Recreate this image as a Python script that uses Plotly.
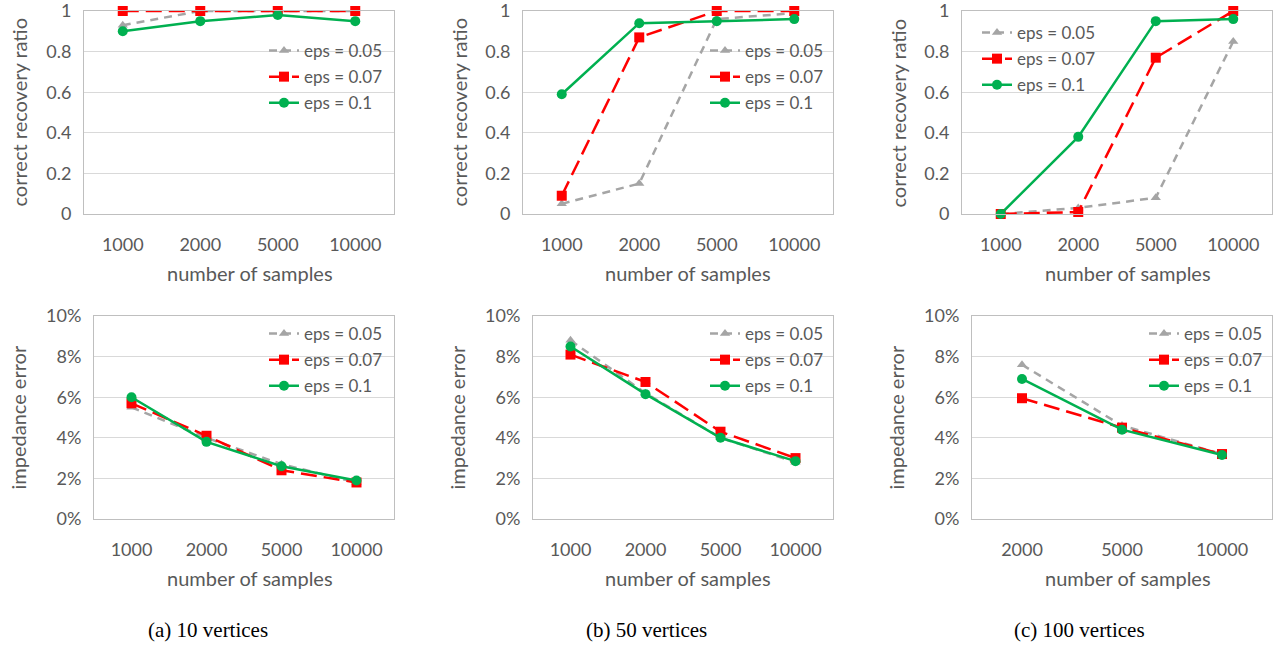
import plotly.graph_objects as go

# ---------------- data ----------------
samples4 = ["1000", "2000", "5000", "10000"]
samples3 = ["2000", "5000", "10000"]
eps_labels = ["eps = 0.05", "eps = 0.07", "eps = 0.1"]

# correct recovery ratio
rec10_e005 = [0.93, 1.00, 1.00, 1.00]
rec10_e007 = [1.00, 1.00, 1.00, 1.00]
rec10_e01 = [0.90, 0.95, 0.98, 0.95]

rec50_e005 = [0.05, 0.15, 0.96, 0.99]
rec50_e007 = [0.09, 0.87, 1.00, 1.00]
rec50_e01 = [0.59, 0.94, 0.95, 0.96]

rec100_e005 = [0.00, 0.03, 0.08, 0.85]
rec100_e007 = [0.00, 0.01, 0.77, 1.00]
rec100_e01 = [0.00, 0.38, 0.95, 0.96]

# impedance error
imp10_e005 = [0.055, 0.040, 0.027, 0.018]
imp10_e007 = [0.057, 0.041, 0.024, 0.018]
imp10_e01 = [0.060, 0.038, 0.026, 0.019]

imp50_e005 = [0.088, 0.062, 0.040, 0.028]
imp50_e007 = [0.081, 0.0675, 0.043, 0.030]
imp50_e01 = [0.085, 0.0615, 0.040, 0.0285]

imp100_e005 = [0.076, 0.046, 0.032]
imp100_e007 = [0.0595, 0.045, 0.032]
imp100_e01 = [0.069, 0.044, 0.0315]

captions = ["(a) 10 vertices", "(b) 50 vertices", "(c) 100 vertices"]

# ---------------- layout constants ----------------
W, H = 1279, 646
FONT = "Lato, 'Open Sans', sans-serif"
TXT = "#595959"


def px(X):
    return X / W


def py(Y):
    return 1 - Y / H


styles = [
    dict(color="#a5a5a5", dash="8px,6px", symbol="triangle-up", size=9),
    dict(color="#ff0000", dash="16px,7px", symbol="square", size=10),
    dict(color="#00b050", dash="solid", symbol="circle", size=10),
]

panels = [
    # x0, x1, ytop, ybot, cats, series, kind, legend pos (x,y), ytitle x, xtitle x
    (84, 394, 11, 214, samples4, [rec10_e005, rec10_e007, rec10_e01], "rec", (264, 33), 18, 250),
    (523, 833, 11, 214, samples4, [rec50_e005, rec50_e007, rec50_e01], "rec", (705, 33), 458, 688),
    (962, 1272, 11, 214, samples4, [rec100_e005, rec100_e007, rec100_e01], "rec", (977, 15), 897, 1128),
    (94, 394, 316, 519, samples4, [imp10_e005, imp10_e007, imp10_e01], "imp", (264, 316), 17, 250),
    (533, 833, 316, 519, samples4, [imp50_e005, imp50_e007, imp50_e01], "imp", (705, 316), 456, 688),
    (972, 1272, 316, 519, samples3, [imp100_e005, imp100_e007, imp100_e01], "imp", (1144, 316), 895, 1128),
]

fig = go.Figure()
annotations = []
layout = dict(
    template="none",
    width=W, height=H,
    margin=dict(l=0, r=0, t=0, b=0, pad=0, autoexpand=False),
    paper_bgcolor="white", plot_bgcolor="white",
    font=dict(family=FONT, size=17, color=TXT),
    showlegend=True,
)

for i, (x0, x1, yt, yb, cats, series, kind, lpos, ytx, xtx) in enumerate(panels):
    n = i + 1
    xa = "x" if n == 1 else f"x{n}"
    ya = "y" if n == 1 else f"y{n}"
    lg = "legend" if n == 1 else f"legend{n}"
    for j, vals in enumerate(series):
        s = styles[j]
        fig.add_trace(go.Scatter(
            x=cats, y=vals, xaxis=xa, yaxis=ya, legend=lg,
            name=eps_labels[j], mode="lines+markers", cliponaxis=False,
            legendgroup=f"p{n}s{j}",
            line=dict(color=s["color"], dash=s["dash"], width=2.5),
            marker=dict(symbol=s["symbol"], size=s["size"], color=s["color"]),
        ))
    xkey = "xaxis" if n == 1 else f"xaxis{n}"
    ykey = "yaxis" if n == 1 else f"yaxis{n}"
    layout[xkey] = dict(
        domain=[px(x0), px(x1)], anchor=ya, type="category",
        range=[-0.5, len(cats) - 0.5], automargin=False,
        showgrid=False, zeroline=False, ticklabeloverflow="allow",
        showline=True, mirror=True, linecolor="#bfbfbf", linewidth=1,
        ticks="outside", ticklen=14, tickcolor="rgba(0,0,0,0)",
        tickfont=dict(size=18, color=TXT, family=FONT),
    )
    if kind == "rec":
        yextra = dict(range=[0, 1], tickvals=[0, 0.2, 0.4, 0.6, 0.8, 1],
                      ticktext=["0", "0.2", "0.4", "0.6", "0.8", "1"])
        ytitle = "correct recovery ratio"
    else:
        yextra = dict(range=[0, 0.1], tickvals=[0, 0.02, 0.04, 0.06, 0.08, 0.1],
                      ticktext=["0%", "2%", "4%", "6%", "8%", "10%"])
        ytitle = "impedance error"
    layout[ykey] = dict(
        domain=[py(yb), py(yt)], anchor=xa, automargin=False,
        showgrid=True, gridcolor="#d9d9d9", gridwidth=1, zeroline=False,
        ticklabeloverflow="allow",
        showline=True, mirror=True, linecolor="#bfbfbf", linewidth=1,
        ticks="outside", ticklen=8, tickcolor="rgba(0,0,0,0)",
        tickfont=dict(size=18, color=TXT, family=FONT),
        **yextra,
    )
    layout[lg] = dict(
        x=px(lpos[0]), y=py(lpos[1]), xanchor="left", yanchor="top",
        bgcolor="rgba(0,0,0,0)", font=dict(size=17, color=TXT, family=FONT),
        tracegroupgap=1, itemwidth=30,
    )
    annotations.append(dict(
        text=ytitle, xref="paper", yref="paper",
        x=px(ytx), y=py((yt + yb) / 2), textangle=-90,
        showarrow=False, xanchor="center", yanchor="middle",
        font=dict(size=20, color=TXT, family=FONT),
    ))
    annotations.append(dict(
        text="number of samples", xref="paper", yref="paper",
        x=px(xtx), y=py(yb + 59), showarrow=False,
        xanchor="center", yanchor="middle",
        font=dict(size=20, color=TXT, family=FONT),
    ))

for cap, cx in zip(captions, [208, 646, 1079]):
    annotations.append(dict(
        text=cap, xref="paper", yref="paper", x=px(cx), y=py(630),
        showarrow=False, xanchor="center", yanchor="middle",
        font=dict(size=21, color="black", family="'Liberation Serif', 'Times New Roman', serif"),
    ))

layout["annotations"] = annotations
fig.update_layout(**layout)
fig.write_html(
    "out.html",
    config={"displayModeBar": False},
    post_script="document.body.style.margin='0';document.body.style.overflow='hidden';",
)
